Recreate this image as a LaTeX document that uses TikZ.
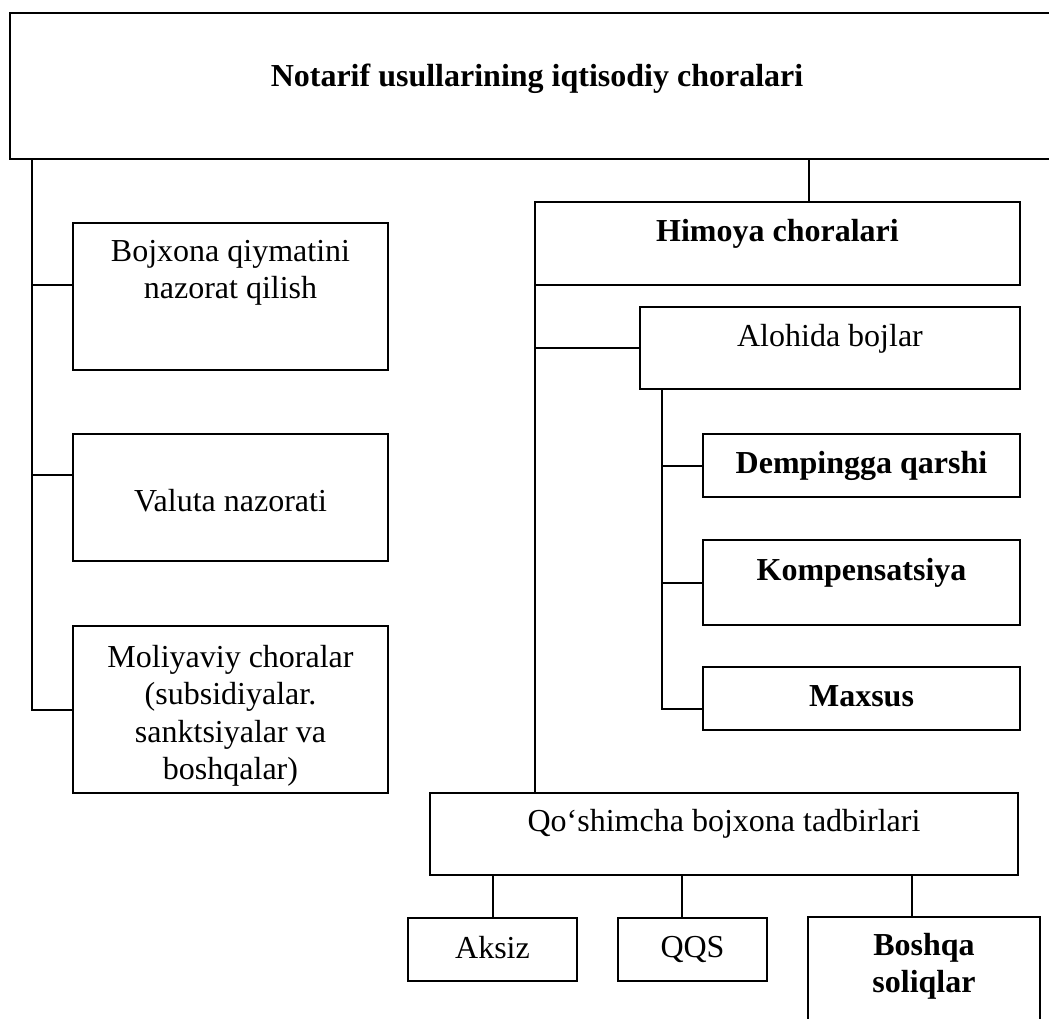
\documentclass[tikz,border=0pt]{standalone}
\usepackage{fontspec}
\setmainfont{Liberation Serif}
\begin{document}
\begin{tikzpicture}[x=1pt,y=-1pt,
  box/.style={draw, line width=2pt, inner sep=0pt, outer sep=0pt, rectangle},
  ln/.style={line width=2pt},
  txt/.style={inner sep=0pt, outer sep=0pt, align=center, font=\fontsize{32}{37.5}\selectfont},
  btxt/.style={txt, font=\fontsize{32}{37.5}\selectfont\bfseries}]
\useasboundingbox (0,0) rectangle (1049,1018);
\fill[white] (0,0) rectangle (1049,1018);
\clip (0,0) rectangle (1049,1018);

% boxes
\node[box, minimum width=1054pt, minimum height=146pt] (bTop) at (537,86) {};
\node[box, minimum width=315pt, minimum height=147pt] (bBoj) at (230.5,296.5) {};
\node[box, minimum width=315pt, minimum height=127pt] (bVal) at (230.5,497.5) {};
\node[box, minimum width=315pt, minimum height=167pt] (bMol) at (230.5,709.5) {};
\node[box, minimum width=485pt, minimum height=83pt] (bHim) at (777.5,243.5) {};
\node[box, minimum width=380pt, minimum height=82pt] (bAlo) at (830,348) {};
\node[box, minimum width=317pt, minimum height=63pt] (bDem) at (861.5,465.5) {};
\node[box, minimum width=317pt, minimum height=85pt] (bKom) at (861.5,582.5) {};
\node[box, minimum width=317pt, minimum height=63pt] (bMax) at (861.5,698.5) {};
\node[box, minimum width=588pt, minimum height=82pt] (bQos) at (724,834) {};
\node[box, minimum width=169pt, minimum height=63pt] (bAks) at (492.5,949.5) {};
\node[box, minimum width=149pt, minimum height=63pt] (bQqs) at (692.5,949.5) {};
\node[box, minimum width=232pt, minimum height=133pt] (bBos) at (924,983.5) {};

% texts
\node[btxt, anchor=base] (tTop) at (537,86) {Notarif usullarining iqtisodiy choralari};
\node[txt, anchor=north] (tBoj) at (230.5,240) {Bojxona qiymatini\\nazorat qilish};
\node[txt, anchor=base] (tVal) at (230.5,511) {Valuta nazorati};
\node[txt, anchor=north] (tMol) at (230.5,645) {Moliyaviy choralar\\(subsidiyalar.\\sanktsiyalar va\\boshqalar)};
\node[btxt, anchor=base] (tHim) at (777.5,241) {Himoya choralari};
\node[txt, anchor=base] (tAlo) at (830,346) {Alohida bojlar};
\node[btxt, anchor=base] (tDem) at (861.5,473) {Dempingga qarshi};
\node[btxt, anchor=base] (tKom) at (861.5,580) {Kompensatsiya};
\node[btxt, anchor=base] (tMax) at (861.5,706) {Maxsus};
\node[txt, anchor=base] (tQos) at (724,831) {Qo‘shimcha bojxona tadbirlari};
\node[txt, anchor=base] (tAks) at (492.5,958) {Aksiz};
\node[txt, anchor=base] (tQqs) at (692.5,957) {QQS};
\node[btxt, anchor=north] (tBos) at (924,933) {Boshqa\\soliqlar};

% left spine
\coordinate (lspine) at ([xshift=22pt]bTop.south west);
\draw[ln] (lspine) |- (bMol.west);
\coordinate (bojIn) at ([yshift=11.5pt]bBoj.west);
\draw[ln] (bojIn) -- (bojIn -| lspine);
\coordinate (valIn) at ([yshift=22.5pt]bVal.west);
\draw[ln] (valIn) -- (valIn -| lspine);

% top to Himoya
\coordinate (himIn) at ([xshift=31.5pt]bHim.north);
\draw[ln] (himIn) -- (himIn |- bTop.south);

% right spine
\draw[ln] (bHim.south west) -- (bHim.south west |- bQos.north);
\draw[ln] (bAlo.west) -- (bAlo.west -| bHim.south west);

% Alohida sub-spine
\coordinate (aspine) at ([xshift=22pt]bAlo.south west);
\coordinate (maxIn) at ([yshift=-10.5pt]bMax.west);
\draw[ln] (aspine) |- (maxIn);
\draw[ln] (bDem.west) -- (bDem.west -| aspine);
\draw[ln] (bKom.west) -- (bKom.west -| aspine);

% bottom
\draw[ln] (bAks.north) -- (bAks.north |- bQos.south);
\coordinate (qqsIn) at ([xshift=-10.5pt]bQqs.north);
\draw[ln] (qqsIn) -- (qqsIn |- bQos.south);
\coordinate (bosIn) at ([xshift=-12pt]bBos.north);
\draw[ln] (bosIn) -- (bosIn |- bQos.south);
\end{tikzpicture}
\end{document}
